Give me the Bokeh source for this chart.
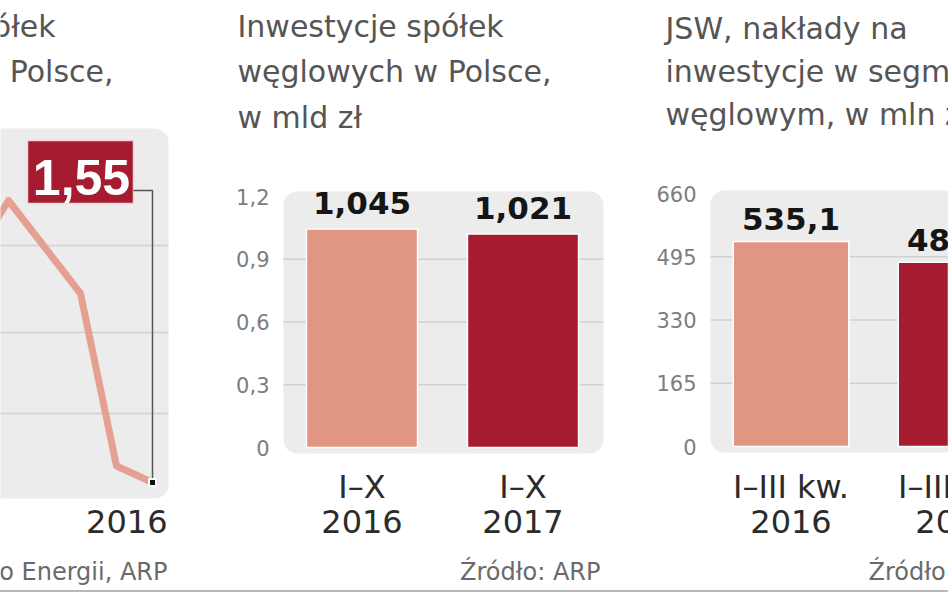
from bokeh.plotting import figure
from bokeh.models import Range1d, FixedTicker, CustomJSTickFormatter, Label, Spacer
from bokeh.layouts import row, column
from bokeh.core.properties import value
from bokeh.embed import file_html
from bokeh.resources import INLINE

# ---------------- data ----------------
trend_years = [2011, 2012, 2013, 2014, 2015, 2016]
trend_values = [3.04, 3.43, 3.12, 2.81, 1.66, 1.55]
trend_last_label = "1,55"
trend_title = ["Inwestycje spółek", "węglowych w Polsce,"]
trend_source = "Źródło: Ministerstwo Energii, ARP"

mid_period = ["I–X", "I–X"]
mid_years = ["2016", "2017"]
mid_values = [1.045, 1.021]
mid_value_labels = ["1,045", "1,021"]
mid_ticks = [0, 0.3, 0.6, 0.9, 1.2]
mid_title = ["Inwestycje spółek", "węglowych w Polsce,", "w mld zł"]
mid_source = "Źródło: ARP"

jsw_period = ["I–III kw.", "I–III kw."]
jsw_years = ["2016", "2017"]
jsw_values = [535.1, 480.6]
jsw_value_labels = ["535,1", "480,6"]
jsw_ticks = [0, 165, 330, 495, 660]
jsw_title = ["JSW, nakłady na", "inwestycje w segmencie", "węglowym, w mln zł"]
jsw_source = "Źródło: JSW"

# ---------------- style ----------------
LIGHT = "#E09682"
DARK = "#A51C30"
LINE = "#E6A092"
PANEL = "#ECECEC"
GRID = "#D0D0D0"
FONT = "DejaVu Sans"
TITLE_C = "#555555"
CAT_C = "#2b2b2b"
TICK_C = "#7d7d7d"
SRC_C = "#6a6a6a"
H = 590
BASE_SHIFT = 0.37   # svg text baseline correction (fraction of font size)


class Mapper:
    """maps picture pixel positions of a panel onto its data space"""
    def __init__(self, fig_l, fig_r, rx0, x0, rx1, x1, ry0, v0, ry1, v1):
        self.fig_l, self.fig_r = fig_l, fig_r
        self.rx0, self.x0 = rx0, x0
        self.kx = (x1 - x0) / (rx1 - rx0)
        self.ry0, self.v0 = ry0, v0
        self.ky = (v1 - v0) / (ry1 - ry0)

    def x(self, rx):
        return self.x0 + (rx - self.rx0) * self.kx

    def y(self, ry):
        return self.v0 + (ry - self.ry0) * self.ky

    def ty(self, ry, fs):
        return self.y(ry - BASE_SHIFT * fs)


def make_fig(m):
    p = figure(width=m.fig_r - m.fig_l, height=H,
               x_range=Range1d(m.x(m.fig_l), m.x(m.fig_r)),
               y_range=Range1d(m.y(H), m.y(0)),
               output_backend="svg", toolbar_location=None,
               min_border=0, x_axis_type=None, y_axis_type=None)
    p.outline_line_color = None
    p.background_fill_color = "white"
    p.border_fill_color = "white"
    return p


def style_axis(p, m, rx, ticks, formatter=None):
    p.yaxis.visible = False
    from bokeh.models import LinearAxis
    ax = LinearAxis(fixed_location=m.x(rx), ticker=FixedTicker(ticks=ticks))
    if formatter is not None:
        ax.formatter = formatter
    ax.axis_line_color = None
    ax.major_tick_line_color = None
    ax.minor_tick_line_color = None
    ax.major_label_text_font = FONT
    ax.major_label_text_font_size = "21px"
    ax.major_label_text_color = TICK_C
    ax.major_label_standoff = 6
    p.add_layout(ax, "left")


def add_bg(p, m, l, r, t, b, radius=14):
    rr = p.quad(left=[m.x(l)], right=[m.x(r)], top=[m.y(t)], bottom=[m.y(b)],
                fill_color=PANEL, line_color=None, border_radius=radius)
    rr.level = "image"


def add_grid(p, m, l, r, ticks):
    p.segment(x0=[m.x(l)] * len(ticks), x1=[m.x(r)] * len(ticks), y0=ticks, y1=ticks,
              line_color=GRID, line_width=1.5)


def add_label(p, m, rx, ry, text, fs, color, align="left"):
    p.add_layout(Label(x=m.x(rx), y=m.ty(ry, fs), text=text, text_font=FONT,
                       text_font_size=f"{fs}px", text_color=color, text_align=align,
                       text_baseline="alphabetic"))


# ================= left panel: trend line =================
mL = Mapper(0, 215, 152, trend_years[-1], 188, trend_years[-1] + 1,
            482, trend_values[-1], 332, trend_values[-1] + 1.0)
pL = make_fig(mL)
add_bg(pL, mL, -40, 168, 128, 498)
add_grid(pL, mL, -40, 168, [mL.y(413), mL.y(332), mL.y(245)])
pL.line(trend_years, trend_values, line_color=LINE, line_width=7,
        line_join="round", line_cap="round")
# call-out box for the last value
pL.quad(left=[mL.x(27)], right=[mL.x(133)], top=[mL.y(140)], bottom=[mL.y(203)],
        fill_color=DARK, line_color="#f2d4d4", line_width=1.5)
pL.text(x=[mL.x(81)], y=[mL.ty(195, 50)], text=[trend_last_label], text_align="center",
        text_baseline="alphabetic",
        text_font=value("Liberation Sans Narrow, Liberation Sans"),
        text_font_style="bold", text_font_size="50px", text_color="white")
pL.line(x=[mL.x(133), trend_years[-1], trend_years[-1]],
        y=[mL.y(190), mL.y(190), trend_values[-1]], line_color="#555555", line_width=1.5)
pL.scatter(x=[trend_years[-1]], y=[trend_values[-1]], marker="square", size=7,
           fill_color="#111111", line_color="white", line_width=2)
pL.text(x=[trend_years[-1]], y=[mL.ty(533, 32)], text=[str(trend_years[-1])],
        x_offset=15, text_align="right", text_baseline="alphabetic",
        text_font=value(FONT), text_font_size="32px", text_color=CAT_C)
add_label(pL, mL, 55, 37, trend_title[0], 30, TITLE_C, align="right")
add_label(pL, mL, 113, 82, trend_title[1], 30, TITLE_C, align="right")
add_label(pL, mL, 167, 580, trend_source, 24, SRC_C, align="right")

# ================= middle panel: bars =================
mM = Mapper(215, 625, 361.5, 0, 522.5, 1, 447, mid_ticks[0], 196, mid_ticks[-1])
pM = make_fig(mM)
style_axis(pM, mM, 281, mid_ticks, CustomJSTickFormatter(
    code="return tick === 0 ? '0' : tick.toFixed(1).replace('.', ',');"))
add_bg(pM, mM, 283, 603, 191, 453)
add_grid(pM, mM, 283, 603, mid_ticks[1:-1])
xm = list(range(len(mid_values)))
pM.vbar(x=xm, top=mid_values, bottom=0, width=0.69, fill_color=[LIGHT, DARK],
        line_color="white", line_width=1.5)
pM.text(x=xm, y=mid_values, text=mid_value_labels, y_offset=-26,
        text_align="center", text_baseline="alphabetic", text_font=value(FONT),
        text_font_style="bold", text_font_size="31px", text_color="#151515")
pM.text(x=xm, y=[mM.ty(498, 32)] * len(xm), text=mid_period, text_align="center",
        text_baseline="alphabetic", text_font=value(FONT), text_font_size="32px",
        text_color=CAT_C)
pM.text(x=xm, y=[mM.ty(533, 32)] * len(xm), text=mid_years, text_align="center",
        text_baseline="alphabetic", text_font=value(FONT), text_font_size="32px",
        text_color=CAT_C)
for i, ry in enumerate([37, 82, 128]):
    add_label(pM, mM, 237, ry, mid_title[i], 30, TITLE_C)
add_label(pM, mM, 600, 580, mid_source, 24, SRC_C, align="right")

# ================= right panel: JSW bars =================
mR = Mapper(625, 948, 790.5, 0, 955.5, 1, 446, jsw_ticks[0], 193, jsw_ticks[-1])
pR = make_fig(mR)
style_axis(pR, mR, 708, jsw_ticks)
add_bg(pR, mR, 710, 1000, 190, 452)
add_grid(pR, mR, 710, 1000, jsw_ticks[1:-1])
xr = list(range(len(jsw_values)))
pR.vbar(x=xr, top=jsw_values, bottom=0, width=0.70, fill_color=[LIGHT, DARK],
        line_color="white", line_width=1.5)
pR.text(x=xr, y=jsw_values, text=jsw_value_labels, y_offset=-22,
        text_align="center", text_baseline="alphabetic", text_font=value(FONT),
        text_font_style="bold", text_font_size="31px", text_color="#151515")
pR.text(x=xr, y=[mR.ty(498, 32)] * len(xr), text=jsw_period, text_align="center",
        text_baseline="alphabetic", text_font=value(FONT), text_font_size="32px",
        text_color=CAT_C)
pR.text(x=xr, y=[mR.ty(533, 32)] * len(xr), text=jsw_years, text_align="center",
        text_baseline="alphabetic", text_font=value(FONT), text_font_size="32px",
        text_color=CAT_C)
for i, ry in enumerate([39, 82, 125]):
    add_label(pR, mR, 665, ry, jsw_title[i], 30, TITLE_C)
add_label(pR, mR, 868, 580, jsw_source, 24, SRC_C)

rule = Spacer(width=948, height=2, styles={"background-color": "#b8b8b8"})
layout = column(row(pL, pM, pR, spacing=0), rule, spacing=0)

open("out.html", "w").write(file_html(layout, INLINE))
